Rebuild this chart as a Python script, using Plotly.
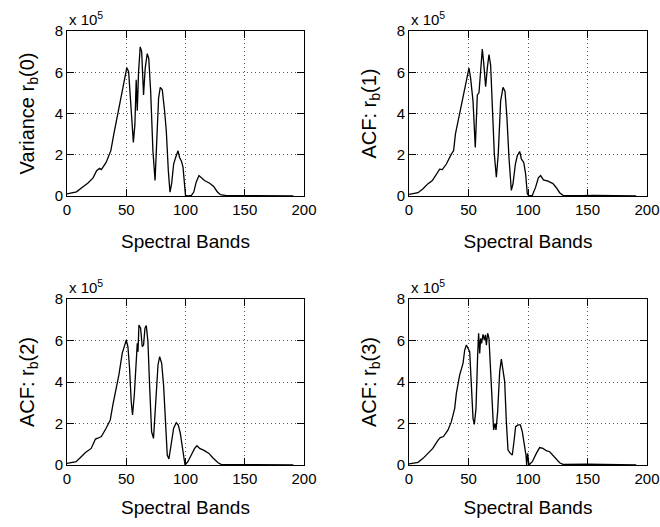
import plotly.graph_objects as go

# Values in units of 1e5 (axis shows "x 10^5")
bands_0 = [0, 8, 13.5, 17.5, 22, 25, 27.5, 29, 33, 37, 39.5, 43, 45.7, 47.7, 49, 50.5, 52, 53.4, 55, 56,
           57.3, 58.4, 59.3, 60.4, 61.8, 63, 64.6, 66, 67.7, 69, 70.6, 72.5, 74.3, 75.6, 77.3, 78.7, 80.4,
           82.4, 83.8, 85.5, 86.9, 88.3, 90, 91.7, 93.7, 95, 96.5, 97.9, 99.3, 100, 102, 105, 107, 109,
           111.4, 113.4, 116, 120.4, 123.8, 126.6, 129.4, 134.5, 145, 155, 165, 175, 185, 191]
var_r0 = [0.1, 0.2, 0.45, 0.62, 0.88, 1.23, 1.34, 1.28, 1.63, 2.2, 3.0, 4.03, 4.75, 5.3, 5.7, 6.22, 6.03,
          4.9, 3.47, 2.6, 3.47, 5.63, 4.14, 6.03, 7.23, 7.0, 4.9, 6.2, 6.9, 6.67, 5.07, 2.2, 0.75, 2.2,
          4.75, 5.27, 5.15, 4.1, 3.15, 1.23, 0.19, 0.6, 1.55, 1.87, 2.19, 1.87, 1.7, 1.4, 0.43, 0.03, 0.0,
          0.03, 0.19, 0.67, 0.99, 0.88, 0.75, 0.62, 0.46, 0.22, 0.06, 0.02, 0.02, 0.03, 0.02, 0.01, 0.01, 0.01]

bands_1 = [0, 7.6, 11.8, 16, 19.6, 23, 25.8, 28, 31.4, 35.6, 37.5, 39, 42.6, 45.4, 47.6, 50.4, 51.8, 53.8,
           55.7, 57.4, 58.8, 60.2, 61.6, 62.7, 64.4, 65.8, 67.2, 68.6, 70, 71.7, 73.4, 75, 77, 79, 80.7,
           82.3, 84, 86, 87.4, 89.4, 91, 93, 94.4, 96.4, 98, 99.4, 100.8, 103.6, 106.4, 108.7, 110.6, 113,
           116.8, 121, 123.8, 126.6, 129.4, 135, 145, 155, 165, 175, 185, 191]
acf_r1 = [0.08, 0.16, 0.35, 0.6, 0.75, 1.07, 1.3, 1.28, 1.55, 2.03, 2.2, 3.0, 4.03, 4.83, 5.47, 6.2, 5.7,
          4.6, 2.35, 4.9, 5.0, 6.03, 7.12, 6.5, 5.3, 6.2, 6.86, 6.35, 4.27, 2.03, 0.91, 2.03, 4.6, 5.27,
          5.07, 3.8, 1.87, 0.27, 0.6, 1.55, 1.95, 2.16, 1.8, 1.63, 1.07, 0.11, 0.0, 0.03, 0.43, 0.88, 0.99,
          0.78, 0.72, 0.6, 0.4, 0.16, 0.03, 0.02, 0.02, 0.03, 0.02, 0.01, 0.01, 0.01]

bands_2 = [0, 7.7, 12, 15.6, 20.4, 24, 26, 29, 33, 36.5, 38.7, 41, 43.8, 46.6, 50, 51.4, 52.8, 54.2, 55.3,
           56.8, 58.4, 59.3, 59.9, 60.7, 62.1, 63.5, 64.6, 65.8, 66.9, 68.3, 69.7, 71.4, 73, 74.8, 76.8,
           78.2, 79.9, 81.5, 83.2, 84.6, 86, 88, 90, 92.2, 93.9, 95.6, 97, 98.4, 99.6, 102, 105, 107.7,
           109.7, 112, 116, 119.8, 123, 127.5, 130, 140, 150, 163, 175, 185, 191]
acf_r2 = [0.08, 0.16, 0.4, 0.6, 0.8, 1.25, 1.29, 1.37, 1.77, 2.17, 2.9, 3.53, 4.34, 5.38, 6.02, 5.7, 4.66,
          3.05, 2.41, 3.37, 5.46, 5.86, 5.46, 6.75, 6.59, 5.7, 5.78, 6.59, 6.72, 5.94, 3.85, 1.6, 1.28,
          2.73, 4.82, 5.22, 4.9, 3.85, 1.93, 0.48, 0.29, 0.96, 1.77, 2.04, 1.93, 1.53, 0.96, 0.32, 0.0,
          0.16, 0.48, 0.8, 0.93, 0.8, 0.69, 0.56, 0.35, 0.11, 0.03, 0.03, 0.04, 0.03, 0.01, 0.01, 0.01]

bands_3 = [0, 7.6, 11.8, 16, 20, 24.4, 26.3, 29, 32.8, 35.6, 38.4, 39.8, 42.6, 45.4, 46.8, 48.2, 49.9, 51,
           52.4, 53.8, 54.9, 56.3, 57.7, 58.5, 59.4, 60.2, 61, 62.2, 63.3, 64.2, 65, 66.1, 67.2, 68.6, 70,
           71.1, 72.3, 73.1, 74.5, 76.2, 77.6, 79, 80.4, 81.8, 83.2, 85.2, 86.8, 88.2, 89.6, 91.6, 93.6,
           95.2, 96.9, 98.3, 98.9, 99.7, 100.8, 103.6, 107, 109.8, 112.6, 115.4, 118.2, 121, 123.8, 126.6,
           129.4, 138, 150, 163, 175, 185, 191]
acf_r3 = [0.05, 0.13, 0.32, 0.56, 0.8, 1.2, 1.32, 1.37, 1.69, 2.09, 2.73, 3.45, 4.34, 4.9, 5.54, 5.78, 5.62,
          5.46, 3.86, 2.25, 1.96, 2.73, 5.3, 6.35, 5.38, 6.1, 5.86, 6.3, 6.02, 6.27, 5.78, 6.35, 6.1, 4.66,
          2.9, 1.69, 2.0, 1.69, 2.57, 4.5, 5.1, 4.5, 4.02, 2.09, 0.72, 0.56, 0.48, 1.12, 1.85, 1.93, 1.93,
          1.61, 0.96, 0.48, 0.0, 0.56, 0.0, 0.16, 0.56, 0.84, 0.8, 0.69, 0.64, 0.48, 0.29, 0.11, 0.03,
          0.04, 0.04, 0.03, 0.01, 0.01, 0.01]

panels = [
    (bands_0, var_r0, "Variance r<sub>b</sub>(0)"),
    (bands_1, acf_r1, "ACF: r<sub>b</sub>(1)"),
    (bands_2, acf_r2, "ACF: r<sub>b</sub>(2)"),
    (bands_3, acf_r3, "ACF: r<sub>b</sub>(3)"),
]
x_ticks = [0, 50, 100, 150, 200]
y_ticks = [0, 2, 4, 6, 8]

W, H = 660, 527
col_px = [(67, 304), (409, 647)]
row_px = [(31, 196), (299, 465)]

fig = go.Figure()
font = "Liberation Sans, Arial, sans-serif"
annotations = []
for i, (xs, ys, ytitle) in enumerate(panels):
    r, c = divmod(i, 2)
    n = i + 1
    xa = "x" if n == 1 else f"x{n}"
    ya = "y" if n == 1 else f"y{n}"
    fig.add_trace(go.Scatter(x=xs, y=ys, mode="lines", line=dict(color="black", width=1.3),
                             xaxis=xa, yaxis=ya, showlegend=False, hoverinfo="skip"))
    xd = [col_px[c][0] / W, col_px[c][1] / W]
    yd = [1 - row_px[r][1] / H, 1 - row_px[r][0] / H]
    common = dict(showline=True, linecolor="black", linewidth=1, mirror="ticks",
                  ticks="inside", ticklen=7, tickcolor="black", tickwidth=1,
                  showgrid=True, gridcolor="#555555", griddash="1px,3px", gridwidth=1,
                  zeroline=False, automargin=False,
                  tickfont=dict(family=font, size=15, color="black"))
    fig.layout[("xaxis" if n == 1 else f"xaxis{n}")] = dict(
        domain=xd, anchor=ya, range=[0, 200], tickvals=x_ticks,
        title=dict(text="Spectral Bands", font=dict(family=font, size=19, color="black"),
                   standoff=17 if r == 0 else 14),
        **common)
    fig.layout[("yaxis" if n == 1 else f"yaxis{n}")] = dict(
        domain=yd, anchor=xa, range=[0, 8], tickvals=y_ticks,
        title=dict(text=ytitle, font=dict(family=font, size=20, color="black"), standoff=14),
        **common)
    annotations.append(dict(xref="paper", yref="paper", x=col_px[c][0] / W, y=yd[1] + 1 / H,
                            xanchor="left", yanchor="bottom", showarrow=False,
                            text="x 10<sup>5</sup>", font=dict(family=font, size=15, color="black")))

fig.update_layout(template="none", width=W, height=H, margin=dict(l=0, r=0, t=0, b=0),
                  paper_bgcolor="white", plot_bgcolor="white", annotations=annotations)
fig.write_html("out.html", config={"displayModeBar": False},
               post_script="document.body.style.margin='0';document.body.style.overflow='hidden';")
